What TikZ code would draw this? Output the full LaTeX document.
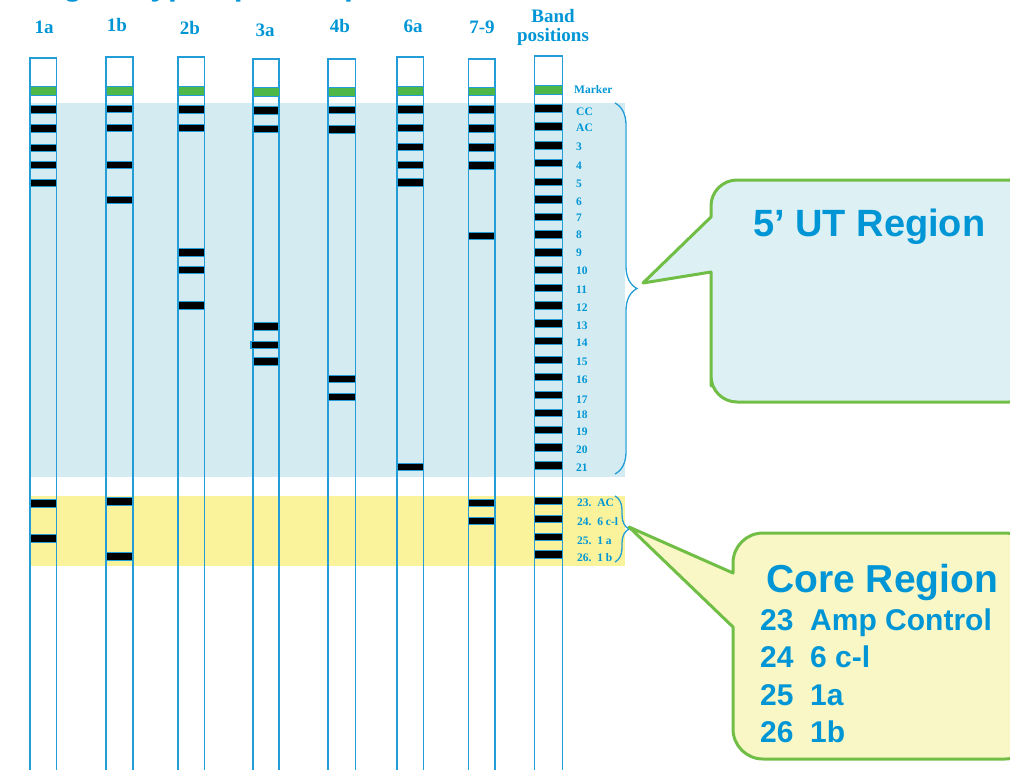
\documentclass[tikz,border=0pt]{standalone}
\usepackage{fontspec}
\setmainfont{Liberation Serif}
\newfontfamily\sansf{Liberation Sans}
\usetikzlibrary{decorations.pathreplacing}
\definecolor{txtblue}{RGB}{0,150,214}
\definecolor{stripblue}{RGB}{35,157,215}
\definecolor{utbg}{RGB}{212,236,241}
\definecolor{corebg}{RGB}{250,243,155}
\definecolor{calloutblue}{RGB}{221,241,245}
\definecolor{calloutyellow}{RGB}{250,247,198}
\definecolor{markgreen}{RGB}{77,184,72}
\definecolor{callgreen}{RGB}{112,190,70}
\tikzset{
  stripline/.style={draw=stripblue, line width=1.9pt},
  bandbox/.style={fill=black, draw=stripblue, line width=1.1pt},
  markerbox/.style={fill=markgreen, draw=stripblue, line width=1pt},
  header/.style={font=\bfseries\fontsize{19}{20}\selectfont, text=txtblue, inner sep=0pt},
  poslabel/.style={font=\bfseries\fontsize{11.5}{12}\selectfont, text=txtblue, inner sep=0pt, anchor=west},
  bracestyle/.style={draw=stripblue, line width=1.3pt, decorate},
  calloutbox/.style={draw=callgreen, line width=3pt, line join=round},
  callouttext/.style={font=\sansf\bfseries, text=txtblue, inner sep=0pt, anchor=base west}
}
\begin{document}
\begin{tikzpicture}[x=1pt,y=-1pt]
\useasboundingbox (0,0) rectangle (1010,769);
\clip (0,0) rectangle (1010,769);

% cut-off title (only its descenders remain inside the picture)
\node[callouttext, font=\sansf\bfseries\fontsize{32}{32}\selectfont] (title) at (63,-5) {genotype-specific probes};

% region backgrounds
\fill[utbg] (30,103) rectangle (625,477);
\fill[corebg] (30,496) rectangle (625,566);

% headers
\node[header] (h1a) at (44,27) {1a};
\node[header] (h1b) at (117,25) {1b};
\node[header] (h2b) at (190,28) {2b};
\node[header] (h3a) at (265,30) {3a};
\node[header] (h4b) at (340,26) {4b};
\node[header] (h6a) at (413,26) {6a};
\node[header] (h79) at (482,27) {7-9};
\node[header, align=center] (hbp) at (553,27) {Band\\[-1pt]positions};

% lanes: name / left / right / top / marker centre / band centres
\foreach \nm/\xl/\xr/\tp/\mk/\bands in {
  1a/30/56.5/58/91/{109.5,128.5,148,165,183,503.5,538.5},
  1b/106/133/57/91/{109,128,165,200,501.5,556.5},
  2b/178/204.5/57/91/{109.5,128,252.5,270,305.5},
  3a/253/279/59/92/{110.5,129,326.5,361.5},
  4b/328/355.5/59/92/{110,129.5,379,397},
  6a/397/423.5/57/91/{109.5,128,147,165,182.5,467},
  79/468.5/495/59/91.5/{109.5,128.5,147.5,165.5,236,503,521},
  bp/534.5/562.5/56/90/{108.5,126.5,145.5,163,182,199.5,217,234.5,252.5,270,288,305.5,323.5,341,360,377,395,413,430,447.5,465.5,501,519,537,554.5}}
{
  \draw[stripline] (\xl,790) -- (\xl,\tp) -- (\xr,\tp) -- (\xr,790);
  \filldraw[markerbox] (\xl,{\mk-4.3}) rectangle (\xr,{\mk+4.3});
  \foreach \b in \bands {
    \filldraw[bandbox] (\xl,{\b-3.6}) rectangle (\xr,{\b+3.6});
  }
}
% slightly offset band in lane 3a
\filldraw[bandbox] (251,341.5) rectangle (279,348.5);

% band position labels
\node[poslabel] (lmk) at (574,90) {Marker};
\foreach \t/\yy [count=\i] in {CC/112, AC/128, 3/147, 4/166, 5/184, 6/202, 7/218, 8/235, 9/253, 10/271, 11/290, 12/308, 13/326, 14/343, 15/362, 16/380, 17/400, 18/415, 19/432, 20/450, 21/468}
  \node[poslabel] (lab\i) at (576,\yy) {\t};
\node[poslabel] (l23) at (577,503) {23.\ \ AC};
\node[poslabel] (l24) at (577,522) {24.\ \ 6 c-l};
\node[poslabel] (l25) at (577,541) {25.\ \ 1 a};
\node[poslabel] (l26) at (577,558) {26.\ \ 1 b};

% braces
\coordinate (utTop) at (615,103);
\coordinate (utBot) at (615,474);
\coordinate (coreTop) at (615,496);
\coordinate (coreBot) at (615,562);
\draw[bracestyle, decoration={brace, amplitude=22pt}] (utTop) -- (utBot);
\draw[bracestyle, decoration={brace, amplitude=14pt}] (coreTop) -- (coreBot);

% callout 1
\draw[calloutbox, fill=calloutblue] (711,217) [rounded corners=26pt] -- (711,180) -- (1035,180) -- (1035,402) -- (711,402) -- (711,360) [sharp corners] -- (711,272) -- (643,283) -- cycle;
\node[callouttext, font=\sansf\bfseries\fontsize{38}{38}\selectfont] (ut) at (753,236) {5’ UT Region};

% callout 2
\draw[calloutbox, fill=calloutyellow] (733,573) [rounded corners=30pt] -- (733,533) -- (1035,533) -- (1035,759) -- (733,759) -- (733,700) [sharp corners] -- (733,627) -- (629,527) -- cycle;
\node[callouttext, font=\sansf\bfseries\fontsize{39}{39}\selectfont] (core) at (766,592) {Core Region};
\node[callouttext, font=\sansf\bfseries\fontsize{30}{30}\selectfont] (c23) at (760,630) {23\ \ Amp Control};
\node[callouttext, font=\sansf\bfseries\fontsize{30}{30}\selectfont] (c24) at (760,667) {24\ \ 6 c-l};
\node[callouttext, font=\sansf\bfseries\fontsize{30}{30}\selectfont] (c25) at (760,705) {25\ \ 1a};
\node[callouttext, font=\sansf\bfseries\fontsize{30}{30}\selectfont] (c26) at (760,742) {26\ \ 1b};
\end{tikzpicture}
\end{document}
